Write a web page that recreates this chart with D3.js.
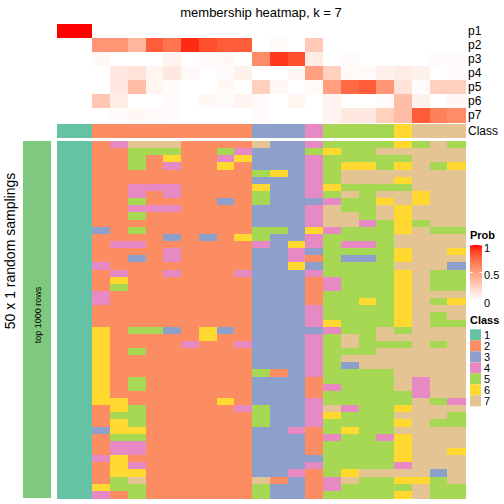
<!DOCTYPE html>
<html><head><meta charset="utf-8">
<script src="https://cdn.jsdelivr.net/npm/d3@7"></script>
<style>body{margin:0;background:#fff}svg{display:block}text{font-family:"Liberation Sans",Arial,Helvetica,sans-serif}</style>
</head><body><svg id="c" width="504" height="504"></svg>
<script>
// ---------- data ----------
const titleText = "membership heatmap, k = 7";
const probRowNames = ["p1","p2","p3","p4","p5","p6","p7"];
const p1 = [1,1,0,0,0,0,0,0,0,0,0, 0,0,0,0, 0,0,0,0, 0, 0,0,0];
const p2 = [0,0,0.55,0.55,0.38,0.8,0.7,0.95,0.85,0.8,0.8, 0,0.03,0,0.28, 0,0,0,0, 0, 0,0,0];
const p3 = [0,0,0.04,0,0,0,0.06,0,0.03,0.04,0, 0.6,0.92,0.85,0.1, 0,0.02,0,0, 0, 0,0.02,0.02];
const p4 = [0,0,0,0.12,0.15,0.05,0.12,0.03,0,0.02,0.07, 0,0,0.04,0.5, 0.25,0.04,0.03,0.07, 0.1, 0.07,0,0.02];
const p5 = [0,0,0,0.12,0.35,0.05,0.02,0,0,0.04,0, 0.25,0.04,0,0.03, 0.5,0.75,0.8,0.55, 0.15, 0.02,0.25,0.25];
const p6 = [0,0,0.3,0.1,0,0,0.02,0,0.04,0.02,0.06, 0.02,0,0.05,0, 0.06,0,0,0.02, 0.35, 0.07,0,0.04];
const p7 = [0,0,0,0.02,0.04,0.03,0.02,0,0,0,0, 0.02,0,0,0, 0.06,0.12,0.12,0.25, 0.35, 0.8,0.65,0.6];
const sampleClass = [1,1,2,2,2,2,2,2,2,2,2,3,3,3,4,5,5,5,5,6,7,7,7];
const samplings = [
[1,1,2,4,7,7,7,2,2,2,2,7,3,3,4,5,5,5,5,6,5,7,5],
[1,1,2,2,5,5,5,2,2,5,4,3,3,3,5,6,5,5,7,7,7,7,7],
[1,1,2,2,5,2,6,2,2,4,6,3,3,3,4,5,5,5,5,5,7,7,7],
[1,1,2,2,5,2,4,2,2,6,2,3,3,3,4,5,6,6,5,6,7,5,6],
[1,1,2,2,2,2,2,2,2,2,2,5,6,3,4,5,7,7,7,7,7,7,7],
[1,1,2,2,2,2,2,2,2,2,2,3,3,3,4,5,7,7,7,6,7,7,7],
[1,1,2,2,4,4,4,2,2,2,2,6,3,3,4,6,5,5,5,5,7,7,7],
[1,1,2,2,4,2,4,2,2,2,2,5,3,3,4,5,7,5,7,7,6,7,7],
[1,1,2,2,5,2,2,2,2,3,2,5,3,3,3,4,5,5,6,7,6,7,7],
[1,1,2,2,4,4,4,2,2,2,2,3,3,3,4,7,5,5,7,6,7,7,7],
[1,1,2,2,5,2,2,2,2,2,2,3,3,3,4,7,7,5,7,6,7,7,7],
[1,1,2,2,2,2,2,2,2,2,2,3,3,3,4,7,7,4,5,6,5,7,7],
[1,1,3,2,5,2,2,2,2,2,2,5,5,3,6,4,5,5,5,6,7,5,5],
[1,1,2,2,2,2,3,2,3,2,6,5,3,3,4,5,5,5,5,7,7,7,7],
[1,1,2,4,4,2,2,2,2,2,2,4,3,6,4,5,4,4,5,7,7,7,7],
[1,1,2,2,2,2,4,2,2,2,2,3,3,4,3,5,5,5,5,6,7,7,6],
[1,1,2,2,3,2,4,2,2,2,2,3,3,4,2,5,3,3,5,6,7,7,7],
[1,1,4,2,2,2,2,2,2,2,2,3,3,6,3,5,5,5,5,7,7,7,3],
[1,1,2,4,2,2,4,2,2,2,4,3,3,3,4,5,5,5,5,6,7,5,5],
[1,1,2,6,2,2,2,2,2,2,2,3,3,3,2,4,5,5,5,6,7,5,5],
[1,1,2,5,2,2,2,2,2,2,2,3,3,3,2,4,5,5,5,6,7,5,5],
[1,1,4,2,2,2,2,2,2,2,2,3,3,3,2,5,5,5,5,6,7,7,7],
[1,1,4,2,2,2,2,2,2,2,2,3,3,3,2,5,5,6,5,6,7,5,6],
[1,1,2,2,2,2,2,2,2,2,2,3,3,3,4,5,5,5,5,6,7,7,7],
[1,1,2,2,2,2,2,2,2,2,2,3,3,3,4,5,5,5,5,6,7,5,7],
[1,1,2,2,2,2,2,2,2,2,2,3,3,3,4,6,5,5,5,6,7,5,5],
[1,1,6,2,5,5,3,2,6,3,2,3,3,3,3,4,5,5,7,5,7,7,7],
[1,1,6,2,2,2,2,2,6,2,2,3,3,3,4,5,7,5,7,7,7,7,7],
[1,1,6,2,2,2,2,4,2,2,4,3,3,3,4,5,7,5,5,5,7,5,7],
[1,1,6,2,5,2,2,2,2,2,2,3,3,3,4,5,5,5,7,7,7,7,7],
[1,1,6,2,2,2,2,2,2,2,2,3,3,3,4,5,7,7,7,7,7,7,7],
[1,1,6,2,2,2,2,2,2,2,2,3,3,3,4,5,3,7,7,7,7,7,7],
[1,1,6,2,2,2,2,2,2,2,2,5,2,3,4,5,5,5,5,7,7,7,7],
[1,1,6,2,5,2,2,2,2,2,2,3,3,3,2,5,5,5,5,7,4,7,7],
[1,1,6,2,5,2,2,2,2,2,2,3,3,3,2,4,5,5,5,7,4,7,7],
[1,1,6,2,2,2,2,2,2,2,2,3,3,3,2,5,5,5,5,5,4,7,7],
[1,1,6,6,2,2,2,2,2,6,2,3,3,3,4,5,5,5,5,5,7,5,4],
[1,1,2,6,5,2,2,2,2,2,4,5,3,3,4,7,4,5,5,6,7,7,7],
[1,1,2,5,5,2,2,2,2,2,2,5,3,3,4,6,5,5,5,7,7,7,5],
[1,1,2,6,5,2,2,2,2,2,2,5,3,3,4,5,5,5,5,6,7,5,5],
[1,1,3,6,6,2,2,2,2,2,2,3,3,4,2,5,6,5,5,7,7,7,7],
[1,1,2,5,5,2,2,2,2,2,2,3,3,3,2,4,5,5,4,6,7,7,7],
[1,1,2,4,4,2,2,2,2,2,2,3,3,3,2,5,5,5,5,6,7,7,7],
[1,1,2,4,4,2,2,2,2,2,2,3,3,3,2,5,5,5,5,6,7,7,6],
[1,1,4,6,2,2,2,2,2,2,2,3,3,3,3,5,5,5,5,6,7,7,7],
[1,1,2,6,4,2,2,2,2,2,2,3,3,3,4,5,5,5,5,4,7,7,7],
[1,1,2,6,6,2,2,2,2,2,2,3,3,4,2,5,6,7,7,7,7,3,7],
[1,1,2,5,7,2,2,2,2,2,2,7,2,3,2,4,7,5,5,6,6,5,7],
[1,1,6,5,5,2,2,2,2,2,2,5,3,3,2,4,5,5,5,5,7,5,5],
[1,1,4,2,5,2,2,2,2,2,2,5,3,3,2,5,5,5,5,6,7,5,5]
];
const classLabels = ["1","2","3","4","5","6","7"];
const classColors = ["#66C2A5","#FC8D62","#8DA0CB","#E78AC3","#A6D854","#FFD92F","#E5C494"];
const probTicks = [0, 0.5, 1];
const leftTitle = "50 x 1 random samplings";
const leftAnnoLabel = "top 1000 rows";

// ---------- drawing ----------
const svg = d3.select("#c");
const nCol = sampleClass.length;
const probs = [p1,p2,p3,p4,p5,p6,p7];

const x = d3.scaleBand().domain(d3.range(nCol)).range([57, 465]);
const yP = d3.scaleBand().domain(probRowNames).range([24, 122]);
const yB = d3.scaleBand().domain(d3.range(samplings.length)).range([141, 498]);
const probColor = d3.scaleLinear().domain([0,1]).range(["#FFFFFF","#FF0000"]).interpolate(d3.interpolateLab);
const classColor = d3.scaleOrdinal().domain(classLabels).range(classColors);

// title
svg.append("text").attr("x", 261).attr("y", 16.5).attr("text-anchor","middle")
  .attr("font-size", 13).text(titleText);

// probability rows
const gP = svg.append("g").attr("shape-rendering","crispEdges");
probRowNames.forEach((name, i) => {
  gP.selectAll(null).data(probs[i]).join("rect")
    .attr("x", (d,j) => x(j)).attr("width", x.bandwidth()+0.5)
    .attr("y", yP(name)).attr("height", yP.bandwidth()+0.5)
    .attr("fill", d => probColor(d));
  svg.append("text").attr("x", 468).attr("y", yP(name) + yP.bandwidth()/2 + 4.3)
    .attr("font-size", 12).text(name);
});

// class row
svg.append("g").attr("shape-rendering","crispEdges").selectAll("rect").data(sampleClass).join("rect")
  .attr("x", (d,j) => x(j)).attr("width", x.bandwidth()+0.5)
  .attr("y", 124).attr("height", 13.5)
  .attr("fill", d => classColor(String(d)));
svg.append("text").attr("x", 468).attr("y", 135).attr("font-size", 12).text("Class");

// samplings body
const gB = svg.append("g").attr("shape-rendering","crispEdges");
samplings.forEach((row, r) => {
  gB.selectAll(null).data(row).join("rect")
    .attr("x", (d,j) => x(j)).attr("width", x.bandwidth()+0.5)
    .attr("y", yB(r)).attr("height", yB.bandwidth()+0.5)
    .attr("fill", d => classColor(String(d)));
});

// left annotation
svg.append("rect").attr("x", 23).attr("y", 141).attr("width", 28).attr("height", 357).attr("fill", "#7FC97F");
svg.append("text").attr("transform", "translate(40.5,315) rotate(-90)").attr("text-anchor","middle")
  .attr("font-size", 9).text(leftAnnoLabel);
svg.append("text").attr("transform", "translate(15,251) rotate(-90)").attr("text-anchor","middle")
  .attr("font-size", 14).text(leftTitle);

// Prob legend
const defs = svg.append("defs");
const grad = defs.append("linearGradient").attr("id","pg").attr("x1",0).attr("y1",1).attr("x2",0).attr("y2",0);
d3.range(0, 1.0001, 0.1).forEach(t => grad.append("stop").attr("offset", t).attr("stop-color", probColor(t)));
svg.append("text").attr("x", 470).attr("y", 239).attr("font-size", 11).attr("font-weight","bold").text("Prob");
const yL = d3.scaleLinear().domain([0,1]).range([300, 245]);
svg.append("rect").attr("x", 470).attr("y", 245).attr("width", 12).attr("height", 55).attr("fill","url(#pg)");
probTicks.forEach(t => {
  svg.append("line").attr("x1",470).attr("x2",472.5).attr("y1",yL(t)).attr("y2",yL(t)).attr("stroke","#fff").attr("stroke-width",1);
  svg.append("line").attr("x1",479.5).attr("x2",482).attr("y1",yL(t)).attr("y2",yL(t)).attr("stroke","#fff").attr("stroke-width",1);
  svg.append("text").attr("x", 484).attr("y", yL(t) + 6.5).attr("font-size", 11).text(String(t));
});

// Class legend
svg.append("text").attr("x", 470).attr("y", 324).attr("font-size", 11).attr("font-weight","bold").text("Class");
const yC = d3.scaleBand().domain(classLabels).range([329.3, 406.3]);
classLabels.forEach(c => {
  svg.append("rect").attr("x", 470).attr("y", yC(c)).attr("width", 11).attr("height", yC.bandwidth())
    .attr("fill", classColor(c));
  svg.append("text").attr("x", 484).attr("y", yC(c) + yC.bandwidth()/2 + 4).attr("font-size", 11).text(c);
});
</script></body></html>
